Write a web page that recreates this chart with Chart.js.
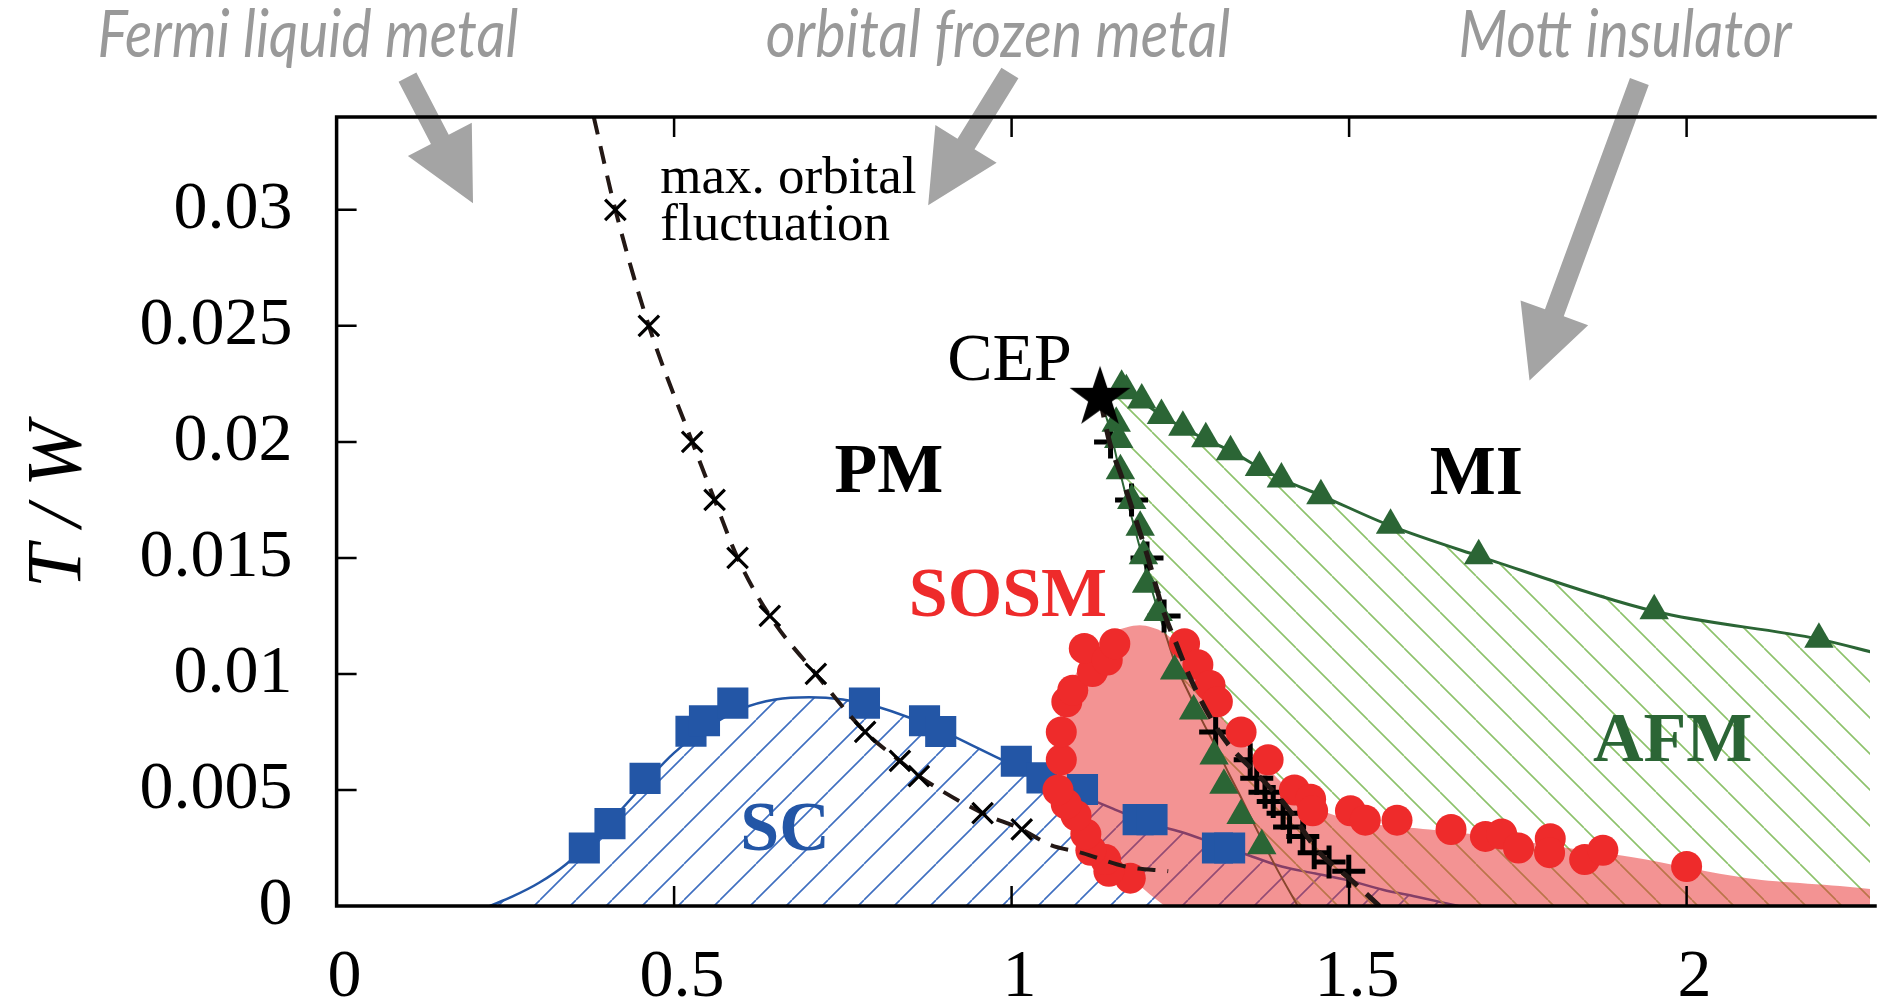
<!DOCTYPE html>
<html>
<head>
<meta charset="utf-8">
<script src="https://cdn.jsdelivr.net/npm/chart.js@4.4.1/dist/chart.umd.min.js"></script>
<style>
  html, body { margin: 0; padding: 0; background: #fff; overflow: hidden; }
  canvas { display: block; }
</style>
</head>
<body>
<canvas id="c" width="1892" height="1006"></canvas>
<script>
// ---- axes ----
const xTicks = [0, 0.5, 1, 1.5, 2];
const xTickLabels = ['0', '0.5', '1', '1.5', '2'];
const yTicks = [0, 0.005, 0.01, 0.015, 0.02, 0.025, 0.03];
const yTickLabels = ['0', '0.005', '0.01', '0.015', '0.02', '0.025', '0.03'];
const xMax = 2.2717;
const yMax = 0.034;

// ---- superconducting transition (squares) and its fitted dome ----
const scU = [0.367, 0.405, 0.457, 0.525, 0.545, 0.587, 0.782, 0.871, 0.895, 1.007, 1.045, 1.105, 1.1875, 1.208, 1.305, 1.323];
const scT = [0.0025, 0.00355, 0.0055, 0.00753, 0.00798, 0.00874, 0.00874, 0.00798, 0.00752, 0.00624, 0.00552, 0.00502, 0.00372, 0.00372, 0.0025, 0.0025];
const scFitU = [0.227, 0.26, 0.30, 0.34, 0.38, 0.42, 0.46, 0.50, 0.55, 0.60, 0.65, 0.70, 0.75, 0.80, 0.85, 0.90, 0.95, 1.00, 1.05, 1.10, 1.15, 1.20, 1.25, 1.30, 1.35, 1.40, 1.45, 1.50, 1.55, 1.60, 1.662];
const scFitT = [0, 0.0004, 0.0010, 0.0018, 0.0029, 0.0041, 0.0054, 0.0066, 0.0077, 0.0085, 0.0089, 0.0090, 0.0089, 0.0086, 0.0081, 0.0075, 0.0068, 0.0061, 0.0054, 0.0048, 0.0042, 0.0036, 0.0032, 0.0027, 0.0022, 0.0017, 0.0014, 0.0011, 0.0007, 0.0004, 0];

// ---- maximum orbital fluctuation (crosses) and dashed guide ----
const orbU = [0.413, 0.4626, 0.5268, 0.56, 0.594, 0.6418, 0.71, 0.783, 0.8345, 0.8626, 0.957, 1.015];
const orbT = [0.0300, 0.0250, 0.0200, 0.0175, 0.0150, 0.0125, 0.0100, 0.0075, 0.00625, 0.0056, 0.0040, 0.0033];
const orbFitU = [0.381, 0.413, 0.4626, 0.5268, 0.56, 0.594, 0.6418, 0.71, 0.783, 0.8345, 0.8626, 0.957, 1.015, 1.0566, 1.1052, 1.1685, 1.232];
const orbFitT = [0.0340, 0.0300, 0.0250, 0.0200, 0.0175, 0.0150, 0.0125, 0.0100, 0.0075, 0.00625, 0.0056, 0.0040, 0.0033, 0.00264, 0.00228, 0.0017, 0.0015];

// ---- metal-insulator transition (plus markers) and dashed guide ----
const mitU = [1.1466, 1.1777, 1.2006, 1.2259, 1.278, 1.3023, 1.3535, 1.3632, 1.3754, 1.3876, 1.4022, 1.4118, 1.4314, 1.4483, 1.4703, 1.4995];
const mitT = [0.0200, 0.0175, 0.0150, 0.0125, 0.0100, 0.0075, 0.0063, 0.0055, 0.0049, 0.0045, 0.0040, 0.0034, 0.0030, 0.0023, 0.0019, 0.0015];
const mitFitU = [1.131, 1.145, 1.163, 1.180, 1.200, 1.225, 1.244, 1.262, 1.291, 1.320, 1.363, 1.407, 1.456, 1.500, 1.545];
const mitFitT = [0.0219, 0.0200, 0.0185, 0.0170, 0.0152, 0.0127, 0.0113, 0.0100, 0.0083, 0.0070, 0.0057, 0.0043, 0.0023, 0.0012, 0.0];

// ---- spin-orbital-selective metal (circles) and its shaded region ----
const sosmU = [1.1758, 1.1441, 1.1393, 1.1174, 1.1100, 1.0955, 1.0809, 1.0687, 1.0736, 1.0736, 1.0818, 1.0906, 1.1198, 1.1077, 1.1417, 1.1529,
               1.2562, 1.2760, 1.2940, 1.3048, 1.3400, 1.3800, 1.4190, 1.4430, 1.4460, 1.5020, 1.5240, 1.5710, 1.6510, 1.7020, 1.7260, 1.7510, 1.7980, 1.7970, 1.8490, 1.8760, 2.0000];
const sosmT = [0.0012, 0.0015, 0.0020, 0.0024, 0.0031, 0.0039, 0.0044, 0.0050, 0.0063, 0.0075, 0.0088, 0.0093, 0.0101, 0.0111, 0.0106, 0.0113,
               0.0113, 0.0104, 0.0095, 0.0088, 0.0075, 0.0063, 0.0050, 0.0046, 0.0041, 0.0041, 0.0037, 0.0037, 0.0033, 0.0030, 0.0031, 0.0025, 0.0029, 0.0023, 0.0020, 0.0024, 0.0017];
const sosmAreaU = [1.227, 1.205, 1.18, 1.15, 1.125, 1.11, 1.095, 1.08, 1.07, 1.066, 1.068, 1.078, 1.095, 1.12, 1.15, 1.19, 1.225, 1.25, 1.27, 1.29, 1.31, 1.34, 1.38, 1.42, 1.46, 1.52, 1.60, 1.68, 1.80, 1.92, 2.09, 2.30, 2.30];
const sosmAreaT = [0, 0.0005, 0.0011, 0.0015, 0.0020, 0.0027, 0.0036, 0.0044, 0.0052, 0.0063, 0.0076, 0.0088, 0.0100, 0.0111, 0.0118, 0.0121, 0.0118, 0.0111, 0.0101, 0.0091, 0.0082, 0.0071, 0.0059, 0.0048, 0.0041, 0.0036, 0.00335, 0.0031, 0.0026, 0.0021, 0.0012, 0.0006, 0];

// ---- antiferromagnetic phase (triangles), its two boundaries, and the end point ----
const afmUpU = [1.163, 1.170, 1.1928, 1.222, 1.2537, 1.2877, 1.3243, 1.3672, 1.3997, 1.4582, 1.5614, 1.692, 1.952, 2.196];
const afmUpT = [0.0224, 0.0222, 0.0218, 0.02114, 0.02063, 0.02013, 0.01958, 0.0189, 0.0184, 0.01768, 0.01641, 0.01509, 0.01272, 0.01149];
const afmLoU = [1.155, 1.1587, 1.1612, 1.178, 1.1905, 1.1953, 1.2, 1.2171, 1.2415, 1.2697, 1.30, 1.3146, 1.3400, 1.3706];
const afmLoT = [0.0208, 0.0201, 0.01876, 0.01747, 0.01632, 0.01509, 0.01387, 0.01265, 0.01013, 0.0084, 0.00646, 0.0052, 0.0039, 0.0026];
const afmUpperFitU = [1.131, 1.16, 1.195, 1.224, 1.255, 1.288, 1.325, 1.367, 1.400, 1.458, 1.56, 1.69, 1.952, 2.196, 2.28];
const afmUpperFitT = [0.0219, 0.0224, 0.0217, 0.0211, 0.0206, 0.0201, 0.0196, 0.0189, 0.0184, 0.0177, 0.0164, 0.0151, 0.0127, 0.0115, 0.0109];
const afmLowerFitU = [1.131, 1.146, 1.158, 1.170, 1.183, 1.196, 1.210, 1.226, 1.243, 1.262, 1.282, 1.300, 1.322, 1.343, 1.363, 1.393, 1.424];
const afmLowerFitT = [0.0219, 0.0205, 0.0190, 0.0176, 0.0162, 0.0148, 0.0134, 0.0119, 0.0104, 0.0092, 0.0080, 0.0070, 0.0057, 0.0045, 0.0033, 0.0016, 0.0];
const cepU = [1.131];
const cepT = [0.0219];

// ---- text in the plot ----
const regionText = ['PM', 'MI', 'SOSM', 'SC', 'AFM'];
const regionU = [0.7377, 1.6195, 0.8477, 0.598, 1.8613];
const regionT = [0.01784, 0.01777, 0.01249, 0.00243, 0.00624];
const regionColor = ['#000000', '#000000', '#ee2b2b', '#2356a6', '#2b6535'];
const noteText = ['max. orbital', 'fluctuation', 'CEP'];
const noteU = [0.4796, 0.4796, 0.9046];
const noteT = [0.03071, 0.02869, 0.02265];
const noteSize = [53, 53, 68];

// ---- headings above the frame with their arrows ----
const headText = ['Fermi liquid metal', 'orbital frozen metal', 'Mott insulator'];
const headLeftU = [-0.3543, 0.6359, 1.6619];
const headRightU = [0.2693, 1.3237, 2.1555];
const headT = 0.0366;
const arrowTailU = [0.105, 0.9975, 1.930];
const arrowTailT = [0.03572, 0.0359, 0.03553];
const arrowTipU = [0.2021, 0.8764, 1.7673];
const arrowTipT = [0.03028, 0.0302, 0.02265];

// ---- colours ----
const BLUE = '#2356a6';
const RED = '#ee2b2b';
const GREEN = '#2b6535';
const INK = '#231815';
const GREY = '#a4a4a4';

const pts = (us, ts) => us.map((u, i) => ({ x: u, y: ts[i] }));

// diagonal hatch tile; dir = 1 for "/" and -1 for "\"
function hatch(color, dir, gap, lw) {
  const c = document.createElement('canvas');
  c.width = gap; c.height = gap;
  const g = c.getContext('2d');
  g.strokeStyle = color; g.lineWidth = lw;
  g.beginPath();
  for (let k = -1; k <= 1; k++) {
    if (dir > 0) { g.moveTo(k * gap, gap); g.lineTo(k * gap + gap, 0); }
    else { g.moveTo(k * gap, 0); g.lineTo(k * gap + gap, gap); }
  }
  g.stroke();
  return g.createPattern(c, 'repeat');
}

// filled five-pointed star marker
function starImage(R, r) {
  const s = Math.ceil(2 * R + 4);
  const c = document.createElement('canvas');
  c.width = s; c.height = s;
  const g = c.getContext('2d');
  g.translate(s / 2, s / 2);
  g.beginPath();
  for (let i = 0; i < 10; i++) {
    const rad = i % 2 ? r : R;
    const a = -Math.PI / 2 + i * Math.PI / 5;
    g.lineTo(rad * Math.cos(a), rad * Math.sin(a));
  }
  g.closePath();
  g.fillStyle = '#000';
  g.fill();
  return c;
}

// closed outline of the AFM phase: lower boundary, down the right edge, back along the upper boundary
const afmRegion = pts(afmLowerFitU, afmLowerFitT)
  .concat([{ x: 2.3, y: 0 }])
  .concat(pts(afmUpperFitU, afmUpperFitT).reverse());

const decor = {
  id: 'decor',
  afterDatasetsDraw(chart) {
    const { ctx, scales: { x, y } } = chart;
    ctx.save();
    ctx.textAlign = 'left';
    ctx.textBaseline = 'alphabetic';
    regionText.forEach((t, i) => {
      ctx.font = 'bold 70px "Liberation Serif"';
      ctx.fillStyle = regionColor[i];
      ctx.fillText(t, x.getPixelForValue(regionU[i]), y.getPixelForValue(regionT[i]));
    });
    noteText.forEach((t, i) => {
      ctx.font = noteSize[i] + 'px "Liberation Serif"';
      ctx.fillStyle = '#000';
      ctx.fillText(t, x.getPixelForValue(noteU[i]), y.getPixelForValue(noteT[i]));
    });
    ctx.restore();
  },
  afterDraw(chart) {
    const { ctx, chartArea: a, scales: { x, y } } = chart;
    ctx.save();

    // arrows pointing from the headings into the diagram
    ctx.fillStyle = GREY;
    const shaft = 10, headLen = 72, headHalf = 36;
    arrowTailU.forEach((_, i) => {
      const x0 = x.getPixelForValue(arrowTailU[i]), y0 = y.getPixelForValue(arrowTailT[i]);
      const x1 = x.getPixelForValue(arrowTipU[i]), y1 = y.getPixelForValue(arrowTipT[i]);
      const len = Math.hypot(x1 - x0, y1 - y0);
      const ux = (x1 - x0) / len, uy = (y1 - y0) / len;
      const nx = -uy, ny = ux;
      const bx = x1 - ux * headLen, by = y1 - uy * headLen;
      ctx.beginPath();
      ctx.moveTo(x0 + nx * shaft, y0 + ny * shaft);
      ctx.lineTo(bx + nx * shaft, by + ny * shaft);
      ctx.lineTo(bx + nx * headHalf, by + ny * headHalf);
      ctx.lineTo(x1, y1);
      ctx.lineTo(bx - nx * headHalf, by - ny * headHalf);
      ctx.lineTo(bx - nx * shaft, by - ny * shaft);
      ctx.lineTo(x0 - nx * shaft, y0 - ny * shaft);
      ctx.closePath();
      ctx.fill();
    });

    // headings
    ctx.fillStyle = '#999999';
    ctx.font = 'italic 400 66px Lato';
    ctx.textBaseline = 'alphabetic';
    ctx.textAlign = 'left';
    headText.forEach((t, i) => {
      const xl = x.getPixelForValue(headLeftU[i]);
      const w = x.getPixelForValue(headRightU[i]) - xl;
      const m = ctx.measureText(t).width;
      ctx.save();
      ctx.translate(xl, y.getPixelForValue(headT));
      ctx.scale(w / m, 1);
      ctx.fillText(t, 0, 0);
      ctx.restore();
    });

    // frame: left, bottom and top spines
    ctx.strokeStyle = '#000';
    ctx.lineWidth = 3.5;
    ctx.lineCap = 'square';
    ctx.beginPath();
    ctx.moveTo(a.right + 5, a.top);
    ctx.lineTo(a.left, a.top);
    ctx.lineTo(a.left, a.bottom);
    ctx.lineTo(a.right + 5, a.bottom);
    ctx.stroke();

    // inward tick marks
    ctx.lineWidth = 2.5;
    ctx.lineCap = 'butt';
    ctx.beginPath();
    xTicks.forEach(v => {
      if (v === 0) return;
      const px = x.getPixelForValue(v);
      ctx.moveTo(px, a.bottom); ctx.lineTo(px, a.bottom - 20);
      ctx.moveTo(px, a.top); ctx.lineTo(px, a.top + 20);
    });
    yTicks.forEach(v => {
      if (v === 0) return;
      const py = y.getPixelForValue(v);
      ctx.moveTo(a.left, py); ctx.lineTo(a.left + 20, py);
    });
    ctx.stroke();

    // vertical axis title T/W
    ctx.save();
    ctx.translate(59, 505);
    ctx.rotate(-Math.PI / 2);
    ctx.fillStyle = '#000';
    ctx.font = 'italic 78px "Liberation Serif"';
    ctx.textBaseline = 'middle';
    ctx.textAlign = 'left';
    const parts = ['T', '/', 'W'];
    const gap = 18;
    const widths = parts.map(p => ctx.measureText(p).width);
    const total = widths.reduce((s, w) => s + w, 0) + gap * 2;
    let cx = -total / 2;
    parts.forEach((p, i) => { ctx.fillText(p, cx, 0); cx += widths[i] + gap; });
    ctx.restore();

    ctx.restore();
  }
};

Chart.defaults.font.family = '"Liberation Serif"';
Chart.defaults.color = '#000';

new Chart(document.getElementById('c'), {
  type: 'scatter',
  data: {
    datasets: [
      { // SC dome: boundary line with blue hatching beneath
        data: pts(scFitU, scFitT), showLine: true, borderColor: BLUE, borderWidth: 2.5,
        pointRadius: 0, cubicInterpolationMode: 'monotone',
        fill: 'origin', backgroundColor: hatch('#3f6fc0', 1, 36, 1.6), order: 100
      },
      { // AFM phase: green hatching
        data: afmRegion, showLine: true, borderColor: 'rgba(0,0,0,0)', borderWidth: 0,
        pointRadius: 0, tension: 0, fill: 'shape', clip: false,
        backgroundColor: hatch('#8dc26b', -1, 36, 1.6), order: 95
      },
      { // AFM lower boundary
        data: pts(afmLowerFitU, afmLowerFitT), showLine: true, borderColor: GREEN, borderWidth: 2,
        pointRadius: 0, cubicInterpolationMode: 'monotone', fill: false, order: 90
      },
      { // AFM upper boundary
        data: pts(afmUpperFitU, afmUpperFitT), showLine: true, borderColor: GREEN, borderWidth: 3,
        pointRadius: 0, cubicInterpolationMode: 'monotone', fill: false, order: 89
      },
      { // SOSM region, translucent red
        data: pts(sosmAreaU, sosmAreaT), showLine: true, borderColor: 'rgba(0,0,0,0)', borderWidth: 0,
        pointRadius: 0, tension: 0.3, fill: 'shape', clip: false,
        backgroundColor: 'rgba(232,40,40,0.5)', order: 80
      },
      { // metal-insulator transition points
        data: pts(mitU, mitT), showLine: false, pointStyle: 'cross', pointRadius: 16.5,
        pointBorderWidth: 5, pointBorderColor: '#000', order: 70
      },
      { // SC transition points
        data: pts(scU, scT), showLine: false, pointStyle: 'rect', pointRadius: 22,
        pointBackgroundColor: BLUE, pointBorderWidth: 0, order: 60
      },
      { // SOSM points
        data: pts(sosmU, sosmT), showLine: false, pointStyle: 'circle', pointRadius: 15.5,
        pointBackgroundColor: RED, pointBorderWidth: 0, order: 50
      },
      { // AFM points, upper branch
        data: pts(afmUpU, afmUpT), showLine: false, pointStyle: 'triangle', pointRadius: 17,
        pointBackgroundColor: GREEN, pointBorderWidth: 0, order: 41
      },
      { // AFM points, lower branch
        data: pts(afmLoU, afmLoT), showLine: false, pointStyle: 'triangle', pointRadius: 17,
        pointBackgroundColor: GREEN, pointBorderWidth: 0, order: 40
      },
      { // dashed guide through the metal-insulator points
        data: pts(mitFitU, mitFitT), showLine: true, borderColor: INK, borderWidth: 5,
        borderDash: [20, 12], pointRadius: 0, cubicInterpolationMode: 'monotone', fill: false, order: 30
      },
      { // dashed guide through the orbital-fluctuation maxima
        data: pts(orbFitU, orbFitT), showLine: true, borderColor: INK, borderWidth: 4,
        borderDash: [18, 12], pointRadius: 0, cubicInterpolationMode: 'monotone', fill: false, order: 29
      },
      { // orbital-fluctuation maxima
        data: pts(orbU, orbT), showLine: false, pointStyle: 'crossRot', pointRadius: 14.5,
        pointBorderWidth: 3.2, pointBorderColor: '#000', order: 20
      },
      { // critical end point
        data: pts(cepU, cepT), showLine: false, pointStyle: starImage(32, 12.5), pointRadius: 16,
        order: 10
      }
    ]
  },
  options: {
    responsive: false,
    animation: false,
    devicePixelRatio: 1,
    events: [],
    layout: { padding: { top: 117, left: 0, right: 0, bottom: 0 } },
    plugins: { legend: { display: false }, tooltip: { enabled: false } },
    scales: {
      x: {
        type: 'linear', position: 'bottom', min: 0, max: xMax,
        afterBuildTicks: s => { s.ticks = xTicks.map(v => ({ value: v })); },
        afterFit: s => { s.height = 100; },
        grid: { display: false, drawTicks: false },
        border: { display: false },
        ticks: {
          font: { family: '"Liberation Serif"', size: 68 }, color: '#000',
          padding: 31, labelOffset: 8, maxRotation: 0, autoSkip: false,
          callback: (v, i) => xTickLabels[i]
        }
      },
      y: {
        type: 'linear', position: 'left', min: 0, max: yMax,
        afterBuildTicks: s => { s.ticks = yTicks.map(v => ({ value: v })); },
        afterFit: s => { s.width = 336.6; },
        grid: { display: false, drawTicks: false },
        border: { display: false },
        ticks: {
          font: { family: '"Liberation Serif"', size: 68 }, color: '#000',
          padding: 44, autoSkip: false,
          callback: (v, i) => yTickLabels[i]
        }
      }
    }
  },
  plugins: [decor]
});
</script>
</body>
</html>
